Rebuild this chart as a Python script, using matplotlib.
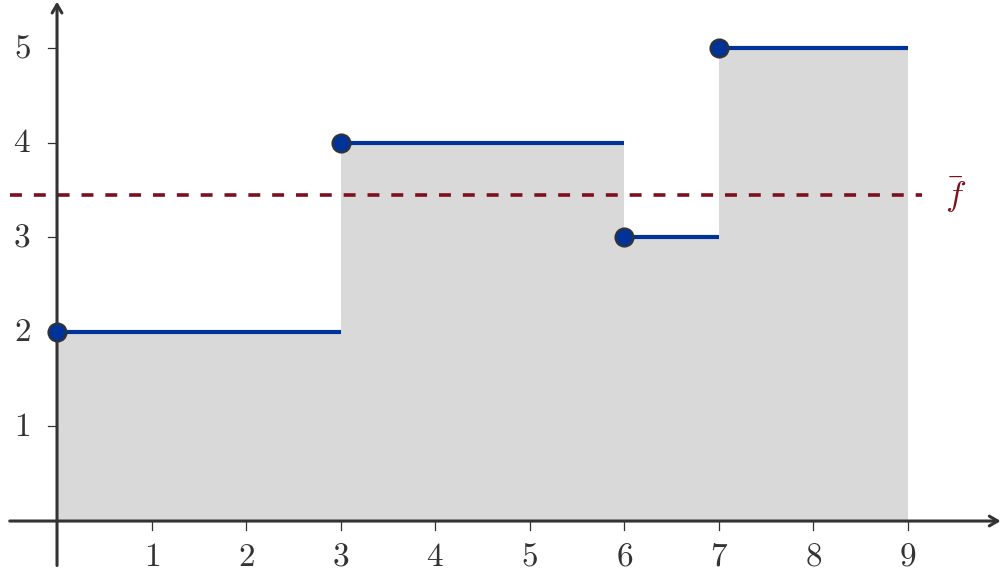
import matplotlib
matplotlib.use('Agg')
import matplotlib.pyplot as plt
import numpy as np

plt.rcParams['mathtext.fontset'] = 'cm'

# step function data
starts = [0, 3, 6, 7]
ends = [3, 6, 7, 9]
values = [2, 4, 3, 5]
xticks = [1, 2, 3, 4, 5, 6, 7, 8, 9]
yticks = [1, 2, 3, 4, 5]

axis_col = '#333333'
blue = '#003399'
red = '#7b1020'

fig = plt.figure(figsize=(10.04, 5.83), dpi=100)
ax = fig.add_axes([0, 0, 1, 1])
ax.set_xlim(-0.603, 10.015)
ax.set_ylim(-0.655, 5.507)
for s in ax.spines.values():
	s.set_visible(False)
ax.set_xticks([])
ax.set_yticks([])

# grey area under f
for a, b, v in zip(starts, ends, values):
	ax.fill_between([a, b], 0, v, color='#d9d9d9', lw=0, zorder=1)

# mean value
mean = sum((b - a) * v for a, b, v in zip(starts, ends, values)) / float(ends[-1] - starts[0])
ax.plot([-0.5, 9.15], [mean, mean], color=red, lw=2.6, ls=(0, (3.3, 3.3)), zorder=2)
ax.text(9.5, mean, r'$\bar{f}$', color=red, fontsize=25, ha='center', va='center')

# axes with arrows
ax.annotate('', xy=(9.98, 0), xytext=(-0.5, 0),
	arrowprops=dict(arrowstyle='->,head_length=0.6,head_width=0.35', color=axis_col, lw=2.2, shrinkA=0, shrinkB=0), zorder=3)
ax.annotate('', xy=(0, 5.49), xytext=(0, -0.47),
	arrowprops=dict(arrowstyle='->,head_length=0.6,head_width=0.35', color=axis_col, lw=2.2, shrinkA=0, shrinkB=0), zorder=3)

# ticks
for t in xticks:
	ax.plot([t, t], [0, -0.09], color=axis_col, lw=0.9, zorder=3)
	ax.text(t, -0.37, '$%d$' % t, fontsize=24, color=axis_col, ha='center', va='center')
for t in yticks:
	ax.plot([0, -0.095], [t, t], color=axis_col, lw=0.9, zorder=3)
	ax.text(-0.37, t, '$%d$' % t, fontsize=24, color=axis_col, ha='center', va='center')

# step lines and markers
for a, b, v in zip(starts, ends, values):
	ax.plot([a, b], [v, v], color=blue, lw=3, solid_capstyle='butt', zorder=4)
ax.plot(starts, values, 'o', ms=13, color=blue, mec=axis_col, mew=1.5, zorder=5, clip_on=False)

fig.savefig('out.png', dpi=100)
